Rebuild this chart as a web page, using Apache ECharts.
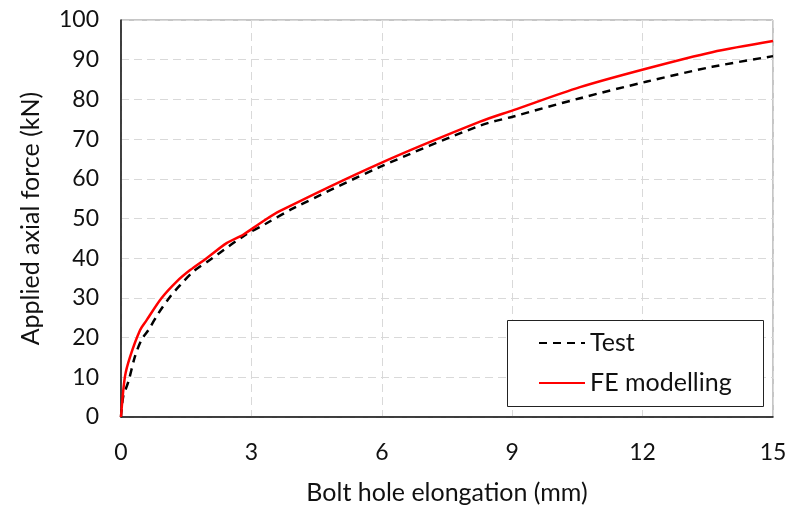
<!DOCTYPE html>
<html><head><meta charset="utf-8">
<script src="https://cdn.jsdelivr.net/npm/echarts@6/dist/echarts.min.js"></script>
<style>html,body{margin:0;padding:0;background:#fff}#c{width:792px;height:510px}</style>
</head><body><div id="c"></div>
<script>
var testX = [0, 0.05, 0.17, 0.32, 0.47, 0.63, 0.86, 1.13, 1.36, 1.66, 2.05, 2.81, 3.35, 3.97, 5.96, 8.26, 9.03, 10.56, 12.1, 13.6, 15];
var testY = [0, 5.1, 8.9, 15.2, 19.4, 21.9, 26.1, 30.3, 33.2, 36.6, 39.6, 45.5, 48.8, 52.6, 63.0, 73.4, 75.7, 80.3, 84.5, 88.2, 90.9];
var feX = [0, 0.09, 0.21, 0.44, 0.59, 0.93, 1.28, 1.59, 1.97, 2.43, 2.81, 3.2, 3.66, 5.96, 8.26, 9.03, 10.56, 12.1, 13.6, 15];
var feY = [0, 10.1, 15.2, 21.9, 24.4, 29.9, 34.1, 37.0, 40.0, 43.8, 45.9, 48.8, 51.9, 63.9, 74.4, 77.3, 83.1, 87.8, 91.9, 94.7];
var xTicks = [0, 3, 6, 9, 12, 15];
var yTicks = [0, 10, 20, 30, 40, 50, 60, 70, 80, 90, 100];
var seriesNames = ['Test', 'FE modelling'];

function pairs(xs, ys){ return xs.map(function(x,i){ return [x, ys[i]]; }); }
var font = 'Lato, "Open Sans", sans-serif';
var chart = echarts.init(document.getElementById('c'), null, {renderer:'canvas'});
chart.setOption({
  animation: false,
  backgroundColor: '#fff',
  grid: {left:121, right:19, top:20, bottom:93, show:true, borderColor:'#8c8c8c', borderWidth:1,
         containLabel:false, outerBoundsMode:'none'},
  graphic: [{type:'rect', left:507, top:320, z:10,
    shape:{width:256, height:86}, style:{fill:'#fff', stroke:'#222', lineWidth:1}}],
  legend: {
    orient:'vertical', left:538, top:330, z:20,
    padding:0, itemWidth:46, itemHeight:14, itemGap:14,
    itemStyle:{opacity:0},
    textStyle:{fontFamily:font, fontSize:25, color:'#111', lineHeight:26},
    data: seriesNames
  },
  xAxis: {
    type:'value', min:xTicks[0], max:xTicks[xTicks.length-1], interval:3,
    name:'Bolt hole elongation (mm)', nameLocation:'middle', nameGap:63,
    nameTextStyle:{fontFamily:font, fontSize:25, color:'#111'},
    axisLine:{show:true, lineStyle:{color:'#111', width:1.5}},
    axisTick:{show:false},
    axisLabel:{fontFamily:font, fontSize:23, color:'#111', margin:24},
    splitLine:{show:true, lineStyle:{color:'#d9d9d9', type:[8,5], width:1}}
  },
  yAxis: {
    type:'value', min:yTicks[0], max:yTicks[yTicks.length-1], interval:10,
    name:'Applied axial force (kN)', nameLocation:'middle', nameGap:78,
    nameTextStyle:{fontFamily:font, fontSize:25, color:'#111'},
    axisLine:{show:true, lineStyle:{color:'#111', width:1.5}},
    axisTick:{show:false},
    axisLabel:{fontFamily:font, fontSize:23, color:'#111', margin:22},
    splitLine:{show:true, lineStyle:{color:'#d9d9d9', type:[8,5], width:1}}
  },
  series: [
    {name:seriesNames[0], type:'line', data:pairs(testX,testY), symbol:'none', smooth:0.3,
     lineStyle:{color:'#000', width:2.5, type:[8,6]}, itemStyle:{color:'#000'}, z:2},
    {name:seriesNames[1], type:'line', data:pairs(feX,feY), symbol:'none', smooth:0.3,
     lineStyle:{color:'#ff0000', width:2.5}, itemStyle:{color:'#ff0000'}, z:3}
  ]
});
</script></body></html>
